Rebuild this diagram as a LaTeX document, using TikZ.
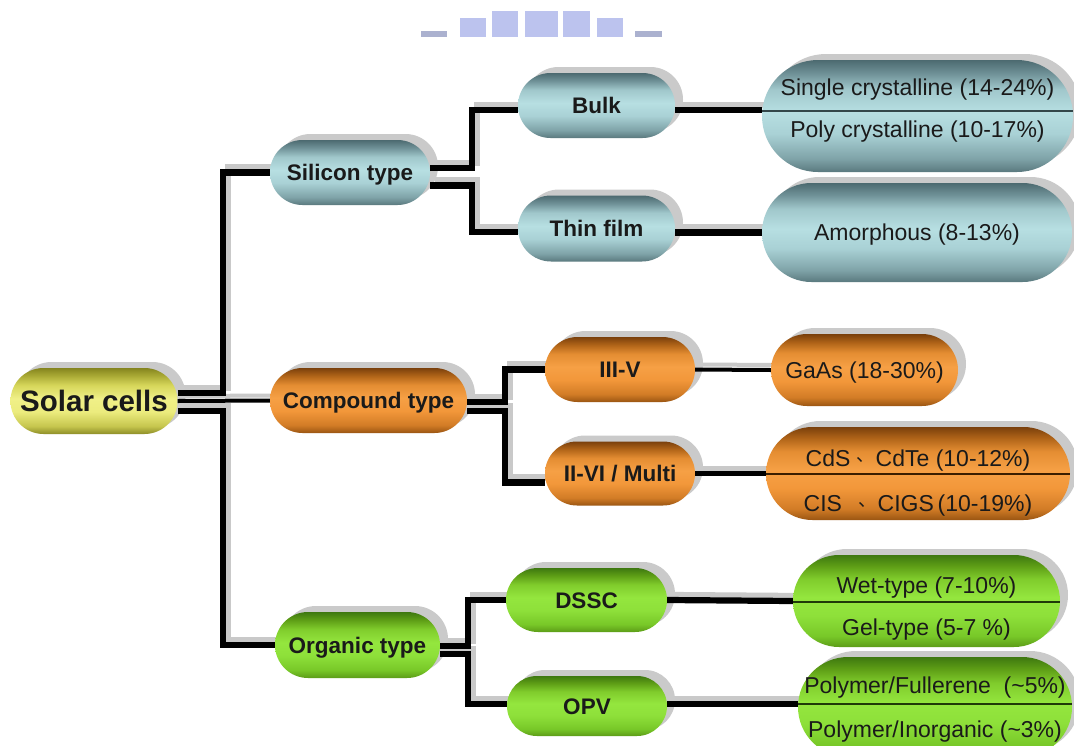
\documentclass[tikz,border=0pt]{standalone}
\usepackage{fontspec}
\setmainfont{Liberation Sans}
\newfontfamily\cjkfont{Noto Sans CJK SC}
\usetikzlibrary{shapes.misc,shadows}

\pgfdeclarelayer{back}
\pgfdeclarelayer{front}
\pgfsetlayers{back,main,front}

% --- colours -------------------------------------------------------------
\definecolor{txt}{HTML}{1A1A1A}
\definecolor{shgray}{HTML}{CACACA}
\definecolor{lkgray}{HTML}{C9C9C9}
\definecolor{ttlA}{HTML}{ABB1CF}
\definecolor{ttlB}{HTML}{BCC3EE}
% teal
\definecolor{tl0}{HTML}{5A797E}\definecolor{tl1}{HTML}{7FA3A8}
\definecolor{tl2}{HTML}{A9D1D5}\definecolor{tl3}{HTML}{B7DFE2}
\definecolor{tl4}{HTML}{A0C7CB}\definecolor{tl5}{HTML}{6F9197}
\definecolor{tl6}{HTML}{4C6A70}\definecolor{tlline}{HTML}{33474A}
% orange
\definecolor{or0}{HTML}{9A5512}\definecolor{or1}{HTML}{D27C26}
\definecolor{or2}{HTML}{F2973A}\definecolor{or3}{HTML}{F6A045}
\definecolor{or4}{HTML}{E48D32}\definecolor{or5}{HTML}{B06418}
\definecolor{or6}{HTML}{7A400C}\definecolor{orline}{HTML}{3A1E00}
% green
\definecolor{gr0}{HTML}{5C9C18}\definecolor{gr1}{HTML}{78C828}
\definecolor{gr2}{HTML}{8EE03A}\definecolor{gr3}{HTML}{94E63E}
\definecolor{gr4}{HTML}{80CC2C}\definecolor{gr5}{HTML}{5E9E16}
\definecolor{gr6}{HTML}{3E7810}\definecolor{grline}{HTML}{1F3A08}
% yellow
\definecolor{ye0}{HTML}{8E8E28}\definecolor{ye1}{HTML}{C6C64E}
\definecolor{ye2}{HTML}{ECEC7E}\definecolor{ye3}{HTML}{F0F088}
\definecolor{ye4}{HTML}{D6D65A}\definecolor{ye5}{HTML}{ABAB36}
\definecolor{ye6}{HTML}{84841E}

% vertical pill shadings (bottom to top, path mapped onto 25bp..75bp)
\pgfdeclareverticalshading{tealshade}{100bp}{color(0bp)=(tl0); color(25bp)=(tl0);
  color(31bp)=(tl1); color(42bp)=(tl2); color(52bp)=(tl3); color(62bp)=(tl4);
  color(69bp)=(tl5); color(75bp)=(tl6); color(100bp)=(tl6)}
\pgfdeclareverticalshading{orangeshade}{100bp}{color(0bp)=(or0); color(25bp)=(or0);
  color(31bp)=(or1); color(42bp)=(or2); color(52bp)=(or3); color(62bp)=(or4);
  color(69bp)=(or5); color(75bp)=(or6); color(100bp)=(or6)}
\pgfdeclareverticalshading{greenshade}{100bp}{color(0bp)=(gr0); color(25bp)=(gr0);
  color(31bp)=(gr1); color(42bp)=(gr2); color(52bp)=(gr3); color(62bp)=(gr4);
  color(69bp)=(gr5); color(75bp)=(gr6); color(100bp)=(gr6)}
\pgfdeclareverticalshading{yellowshade}{100bp}{color(0bp)=(ye0); color(25bp)=(ye0);
  color(31bp)=(ye1); color(42bp)=(ye2); color(52bp)=(ye3); color(62bp)=(ye4);
  color(69bp)=(ye5); color(75bp)=(ye6); color(100bp)=(ye6)}

\tikzset{
  pill/.style={rounded rectangle, inner sep=0pt, draw=none,
    general shadow={fill=shgray, shadow xshift=8pt, shadow yshift=6pt}},
  tealpill/.style={pill, shade, shading=tealshade},
  orangepill/.style={pill, shade, shading=orangeshade},
  greenpill/.style={pill, shade, shading=greenshade},
  yellowpill/.style={pill, shade, shading=yellowshade},
  midtext/.style={font=\fontsize{22.5}{26}\selectfont\bfseries, text=txt,
    text height=16.1pt, text depth=0pt},
  roottext/.style={font=\fontsize{29.5}{34}\selectfont\bfseries, text=txt,
    text height=21.1pt, text depth=0pt},
  leafone/.style={font=\fontsize{23}{27}\selectfont, text=txt,
    text height=16.5pt, text depth=0pt},
  leaftext/.style={font=\fontsize{23}{27}\selectfont, text=txt,
    anchor=base, inner sep=0pt},
  divider/.style={line width=1.3pt},
  lk/.style={line width=6.2pt, draw=black},
  lkshadow/.style={line width=6.2pt, draw=lkgray,
    transform canvas={xshift=5pt, yshift=5pt}},
  thinlk/.style={line width=4pt},
  midlk/.style={line width=5pt},
}

% all tree connectors, drawn with the style given as argument
\newcommand\drawlinks[1]{%
  \draw[#1] ([yshift=8pt]sol.east) -- ++(45,0) |- (sil.west);
  \draw[#1,thinlk] (sol.east) -- (cmp.west);
  \draw[#1] ([yshift=-10pt]sol.east) -- ++(45,0) |- (org.west);
  \draw[#1] ([yshift=4.5pt]sil.east) -- ++(42,0) |- ([yshift=-4.5pt]bulk.west);
  \draw[#1] ([yshift=-13pt]sil.east) -- ++(42,0) |- ([yshift=-3.5pt]thin.west);
  \draw[#1] ([yshift=-4.5pt]bulk.east) -- ([yshift=6pt]xtal.west);
  \draw[#1] ([yshift=-4pt]thin.east) -- (amor.west);
  \draw[#1] ([yshift=-1.5pt]cmp.east) -- ++(38,0) |- (iiiv.west);
  \draw[#1] ([yshift=-10.5pt]cmp.east) -- ++(38,0) |- ([yshift=-9pt]iivi.west);
  \draw[#1,thinlk] (iiiv.east) -- (gaas.west);
  \draw[#1,midlk] (iivi.east) -- (cdte.west);
  \draw[#1] ([yshift=-1pt]org.east) -- ++(28,0) |- (dssc.west);
  \draw[#1] ([yshift=-9pt]org.east) -- ++(28,0) |- ([yshift=2pt]opv.west);
  \draw[#1] (dssc.east) -- (wet.west);
  \draw[#1] ([yshift=2pt]opv.east) -- ([yshift=3pt]poly.west);
}

% small raised ideographic comma in a box of its own
\newcommand\idcomma{\hspace{0.2em}%
  \makebox[0.9em][c]{\raisebox{0.2em}{\cjkfont\fontsize{18}{18}\selectfont 、}}}

\begin{document}
\begin{tikzpicture}[x=1pt, y=-1pt]
  \useasboundingbox (0,0) rectangle (1074,745);
  \begin{pgfonlayer}{back}
    \fill[white] (0,0) rectangle (1074,745);
  \end{pgfonlayer}

  % faint heading strip
  \fill[ttlA] (421,31) rectangle (447,37);
  \fill[ttlB] (460,18) rectangle (486,37);
  \fill[ttlB] (492,11) rectangle (518,37);
  \fill[ttlB] (525,11) rectangle (558,37);
  \fill[ttlB] (563,11) rectangle (590,37);
  \fill[ttlB] (597,18) rectangle (623,37);
  \fill[ttlA] (635,31) rectangle (662,37);

  % root
  \node[yellowpill, roottext, minimum width=167pt, minimum height=66pt]
    (sol) at (94,401) {Solar cells};

  % first level
  \node[tealpill, midtext, minimum width=160pt, minimum height=65pt]
    (sil) at (350,172.5) {Silicon type};
  \node[orangepill, midtext, minimum width=197pt, minimum height=65pt]
    (cmp) at (368.5,400.5) {Compound type};
  \node[greenpill, midtext, minimum width=165pt, minimum height=66pt]
    (org) at (357.5,645) {Organic type};

  % second level
  \node[tealpill, midtext, minimum width=157pt, minimum height=65pt]
    (bulk) at (596.5,105.5) {Bulk};
  \node[tealpill, midtext, minimum width=157pt, minimum height=66pt]
    (thin) at (596.5,228.5) {Thin film};
  \node[orangepill, midtext, minimum width=150pt, minimum height=65pt]
    (iiiv) at (620,369.5) {III-V};
  \node[orangepill, midtext, minimum width=150pt, minimum height=64pt]
    (iivi) at (620,473.5) {II-VI / Multi};
  \node[greenpill, midtext, minimum width=161pt, minimum height=64pt]
    (dssc) at (586.5,600) {DSSC};
  \node[greenpill, midtext, minimum width=160pt, minimum height=60pt]
    (opv) at (587,706) {OPV};

  % leaves
  \node[tealpill, minimum width=311pt, minimum height=112pt]
    (xtal) at (917.5,116) {};
  \node[leaftext] (single) at (917.5,95) {Single crystalline (14-24\%)};
  \node[leaftext] (polyx) at (917.5,137) {Poly crystalline (10-17\%)};
  \draw[divider, tlline] ([yshift=5pt]xtal.west) -- ([yshift=5pt]xtal.east);

  \node[tealpill, leafone, minimum width=310pt, minimum height=99pt]
    (amor) at (917,232.5) {Amorphous (8-13\%)};

  \node[orangepill, leafone, minimum width=187pt, minimum height=72pt]
    (gaas) at (864.5,370) {GaAs (18-30\%)};

  \node[orangepill, minimum width=304pt, minimum height=93pt]
    (cdte) at (918,473.5) {};
  \node[leaftext] (cdtetxt) at (918,466.5) {CdS\idcomma CdTe (10-12\%)};
  \node[leaftext] (cigstxt) at (918,511.5)
    {CIS\hspace{0.45em}\idcomma CIGS\,(10-19\%)};
  \draw[divider, orline] ([yshift=-0.5pt]cdte.west) -- ([yshift=-0.5pt]cdte.east);

  \node[greenpill, minimum width=267pt, minimum height=92pt]
    (wet) at (926.5,601) {};
  \node[leaftext] (wettxt) at (926.5,593) {Wet-type (7-10\%)};
  \node[leaftext] (geltxt) at (926.5,635) {Gel-type (5-7 \%)};
  \draw[divider, grline] ([yshift=-1pt]wet.west) -- ([yshift=-1pt]wet.east);

  \node[greenpill, minimum width=274pt, minimum height=100pt]
    (poly) at (935,707) {};
  \node[leaftext] (fultxt) at (935,693)
    {Polymer/Fullerene\ \ (\textasciitilde 5\%)};
  \node[leaftext] (inotxt) at (935,737)
    {Polymer/Inorganic (\textasciitilde 3\%)};
  \draw[divider, grline] ([yshift=3pt]poly.west) -- ([yshift=3pt]poly.east);

  % connectors: grey offset shadow underneath, black line on top
  \begin{pgfonlayer}{back}
    \drawlinks{lkshadow}
  \end{pgfonlayer}
  \begin{pgfonlayer}{front}
    \drawlinks{lk}
  \end{pgfonlayer}
\end{tikzpicture}
\end{document}
